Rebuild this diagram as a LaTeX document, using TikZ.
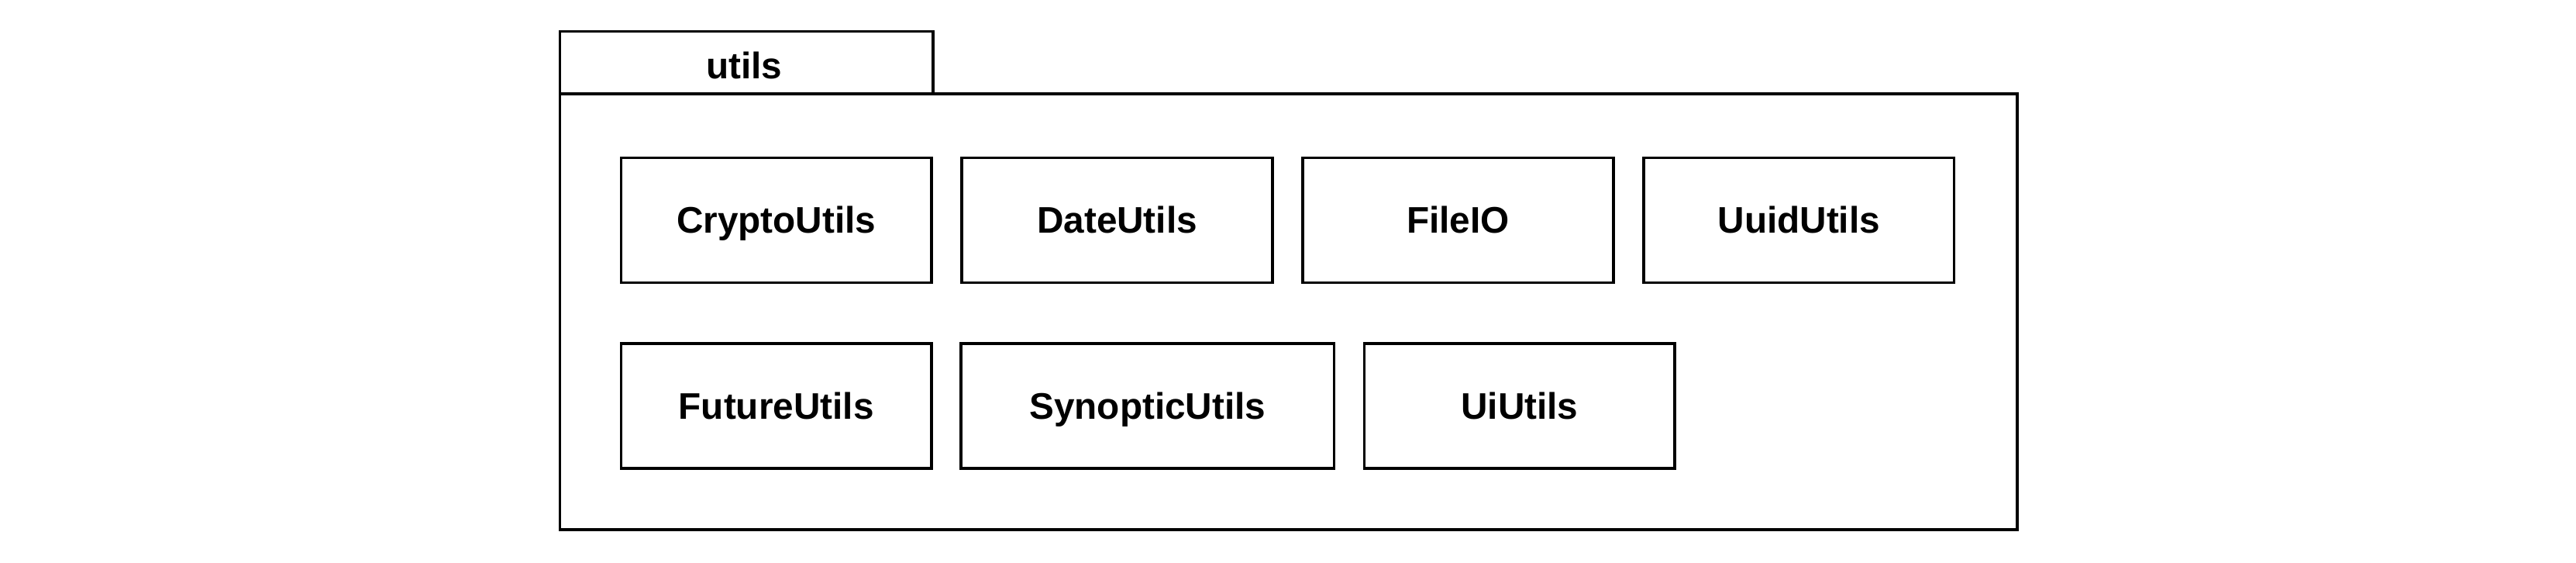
\documentclass[tikz,border=0pt]{standalone}
\usepackage{fontspec}
\setmainfont{Liberation Sans}

\begin{document}
\begin{tikzpicture}[x=1pt, y=1pt,
  pkgbox/.style={draw, line width=1.7pt, inner sep=0pt, anchor=south west},
  cls/.style={draw, line width=1.7pt, inner sep=0pt, minimum width=189pt, minimum height=76pt, text height=18pt, text depth=2.5pt, font=\fontsize{22.5}{26}\selectfont\bfseries}]

\useasboundingbox (0, 0) rectangle (1568, 342);

% Package tab and body
\node[pkgbox, minimum width=227pt, minimum height=38pt] (tab) at (340, 284) {};
\node[font=\fontsize{22.5}{26}\selectfont\bfseries, text height=18pt, text depth=2.5pt] (tabname) at (453, 302) {utils};
\node[pkgbox, minimum width=887pt, minimum height=265pt] (body) at (340, 19) {};

% First row
\node[cls] (crypto) at (472.5, 208) {CryptoUtils};
\node[cls] (date) at (680, 208) {DateUtils};
\node[cls] (fileio) at (887.5, 208) {FileIO};
\node[cls] (uuid) at (1095, 208) {UuidUtils};

% Second row
\node[cls] (future) at (472.5, 95) {FutureUtils};
\node[cls, minimum width=227pt] (synoptic) at (698.5, 95) {SynopticUtils};
\node[cls] (ui) at (925, 95) {UiUtils};

\end{tikzpicture}
\end{document}
